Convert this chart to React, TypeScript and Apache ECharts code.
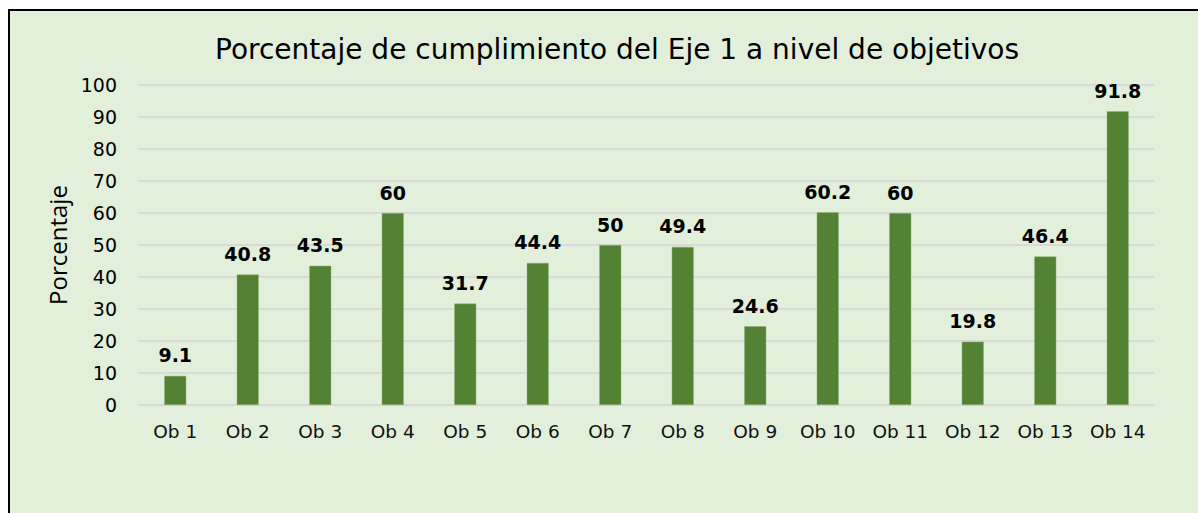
import React, { useEffect, useRef } from "react";
import * as echarts from "echarts";

const title = "Porcentaje de cumplimiento del Eje 1 a nivel de objetivos";
const yAxisName = "Porcentaje";
const categories = ["Ob 1", "Ob 2", "Ob 3", "Ob 4", "Ob 5", "Ob 6", "Ob 7", "Ob 8", "Ob 9", "Ob 10", "Ob 11", "Ob 12", "Ob 13", "Ob 14"];
const values = [9.1, 40.8, 43.5, 60, 31.7, 44.4, 50, 49.4, 24.6, 60.2, 60, 19.8, 46.4, 91.8];

export default function App() {
  const ref = useRef<HTMLDivElement>(null);
  useEffect(() => {
    if (!ref.current) return;
    const chart = echarts.init(ref.current, null, { renderer: "svg" });
    chart.setOption({
      animation: false,
      title: {
        text: title,
        left: 612,
        textAlign: "center",
        top: 30,
        textStyle: { fontFamily: "DejaVu Sans", fontSize: 28, fontWeight: "normal", color: "#000" },
      },
      grid: { left: 139, right: 44, top: 85, bottom: 108, containLabel: false },
      xAxis: {
        type: "category",
        data: categories,
        axisLine: { lineStyle: { color: "#d9d9d9", width: 2 } },
        axisTick: { show: false },
        axisLabel: { fontFamily: "DejaVu Sans", fontSize: 18.5, color: "#111", margin: 17 },
      },
      yAxis: {
        type: "value",
        min: 0,
        max: 100,
        interval: 10,
        name: yAxisName,
        nameLocation: "middle",
        nameGap: 70,
        nameTextStyle: { fontFamily: "Open Sans", fontSize: 24, color: "#000" },
        axisLine: { show: false },
        axisTick: { show: false },
        axisLabel: { fontFamily: "DejaVu Sans", fontSize: 19, color: "#000", margin: 22 },
        splitLine: { lineStyle: { color: "#d9d9d9", width: 2 } },
      },
      series: [
        {
          type: "bar",
          data: values,
          barWidth: 22,
          itemStyle: { color: "#548235", borderColor: "#8fb37a", borderWidth: 0.5 },
          label: {
            show: true,
            position: "top",
            distance: 11,
            fontFamily: "DejaVu Sans",
            fontSize: 19,
            fontWeight: "bold",
            color: "#000",
          },
        },
      ],
    });
    return () => chart.dispose();
  }, []);
  return (
    <div style={{ position: "fixed", left: 0, top: 0, width: 1198, height: 513, background: "#fff", overflow: "hidden" }}>
      <div
        style={{
          position: "absolute",
          left: 8,
          top: 9,
          width: 1200,
          height: 520,
          background: "#E2EFDA",
          borderLeft: "2px solid #000",
          borderTop: "2px solid #000",
        }}
      />
      <div ref={ref} style={{ position: "absolute", left: 0, top: 0, width: 1198, height: 513 }} />
    </div>
  );
}
